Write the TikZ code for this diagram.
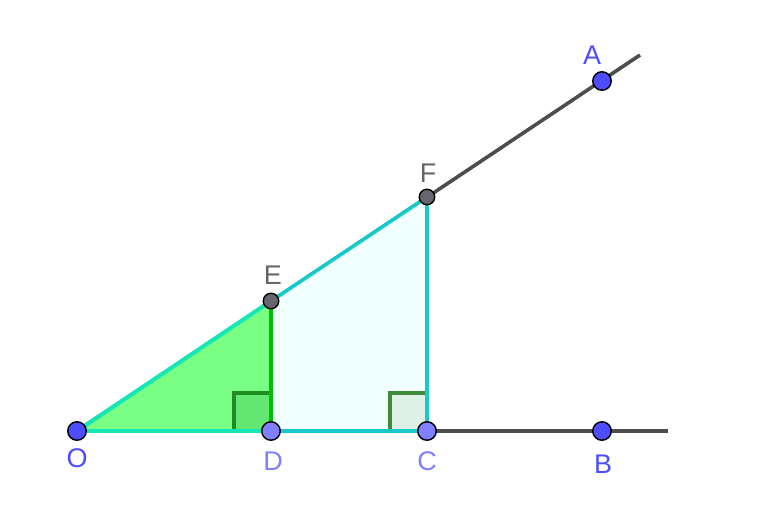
\documentclass[tikz,border=0pt]{standalone}
\usepackage{fontspec}
\setmainfont{Liberation Sans}
\begin{document}
\begin{tikzpicture}[x=1pt,y=-1pt,
  ray/.style={draw=rayc,line width=3.6pt},
  pt/.style={circle,draw=black,line width=1.4pt,minimum size=18.5pt,inner sep=0pt},
  lbl/.style={font=\fontsize{27}{27}\selectfont,inner sep=0pt}]
\definecolor{rayc}{RGB}{77,77,77}
\definecolor{bluept}{RGB}{77,77,255}
\definecolor{lightpt}{RGB}{128,128,255}
\definecolor{graypt}{RGB}{102,102,110}
\definecolor{grayl}{RGB}{102,102,102}
\definecolor{trifill}{RGB}{122,255,133}
\definecolor{triedge}{RGB}{20,230,180}
\definecolor{greenedge}{RGB}{0,190,0}
\definecolor{sqD}{RGB}{30,140,30}
\definecolor{sqDfill}{RGB}{100,230,115}
\definecolor{quadfill}{RGB}{240,255,255}
\definecolor{quadedge}{RGB}{25,200,200}
\definecolor{sqC}{RGB}{60,140,60}
\definecolor{sqCfill}{RGB}{220,240,230}
\useasboundingbox (0,0) rectangle (763,509);
\coordinate (O) at (77,431);
\coordinate (D) at (271,431);
\coordinate (C) at (427,431);
\coordinate (B) at (602,431);
\coordinate (E) at (271,301);
\coordinate (F) at (427,197);
\coordinate (A) at (602,81);
\coordinate (Bend) at (668,431);
\coordinate (Aend) at (640,55);
% rays
\draw[ray] (O) -- (Bend);
\draw[ray] (O) -- (Aend);
% quadrilateral DCFE
\fill[quadfill] (D) -- (C) -- (F) -- (E) -- cycle;
% triangle ODE
\fill[trifill] (O) -- (D) -- (E) -- cycle;
% right angle markers
\fill[sqDfill] (D) rectangle ++(-37,-38);
\draw[draw=sqD,line width=3.6pt] (D) ++(-37,0) -- ++(0,-38) -- ++(37,0);
\fill[sqCfill] (C) rectangle ++(-37,-38);
\draw[draw=sqC,line width=3.6pt] (C) ++(-37,0) -- ++(0,-38) -- ++(37,0);
% edges
\draw[quadedge,line width=3.6pt] (D) -- (C) -- (F) -- (E);
\draw[triedge,line width=3.6pt] (O) -- (D);
\draw[triedge,line width=4pt] (O) -- (E);
\draw[greenedge,line width=3.6pt] (E) -- (D);
% points
\node[pt,fill=bluept] (Op) at (O) {};
\node[pt,fill=lightpt] (Dp) at (D) {};
\node[pt,fill=lightpt] (Cp) at (C) {};
\node[pt,fill=bluept] (Bp) at (B) {};
\node[pt,fill=graypt,minimum size=15.5pt] (Ep) at (E) {};
\node[pt,fill=graypt,minimum size=15.5pt] (Fp) at (F) {};
\node[pt,fill=bluept] (Ap) at (A) {};
% labels
\node[lbl,text=bluept] (Ol) at (77,458) {O};
\node[lbl,text=lightpt] (Dl) at (273,461) {D};
\node[lbl,text=lightpt] (Cl) at (427,461) {C};
\node[lbl,text=bluept] (Bl) at (603,464) {B};
\node[lbl,text=grayl] (El) at (273,275) {E};
\node[lbl,text=grayl] (Fl) at (428,173) {F};
\node[lbl,text=bluept] (Al) at (592,55) {A};
\end{tikzpicture}
\end{document}
